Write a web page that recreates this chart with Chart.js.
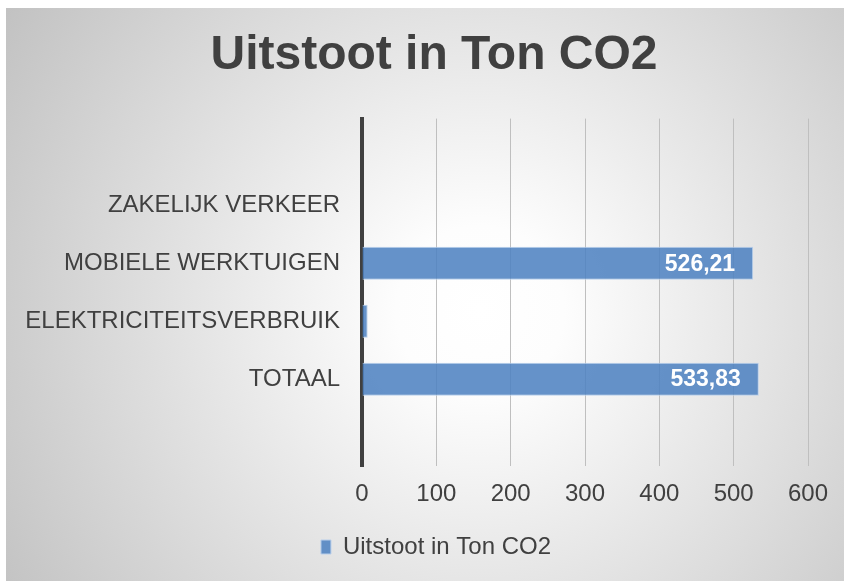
<!DOCTYPE html>
<html>
<head>
<meta charset="utf-8">
<script src="https://cdn.jsdelivr.net/npm/chart.js@4"></script>
<style>
  html, body { margin: 0; padding: 0; background: #fff; }
  #wrap { position: relative; width: 844px; height: 581px; }
</style>
</head>
<body>
<div id="wrap"><canvas id="chart" width="844" height="581"></canvas></div>
<script>
// ===== data =====
const categories = ['', 'ZAKELIJK VERKEER', 'MOBIELE WERKTUIGEN', 'ELEKTRICITEITSVERBRUIK', 'TOTAAL', ''];
const uitstoot = [null, 0, 526.21, 7.62, 533.83, null];
const xTicks = [0, 100, 200, 300, 400, 500, 600];
const seriesName = 'Uitstoot in Ton CO2';
const titleText = 'Uitstoot in Ton CO2';

const textColor = '#404040';
const font = '"Liberation Sans", Arial, sans-serif';

// grey-to-white radial background inside the frame
const bgPlugin = {
  id: 'bg',
  beforeDraw(chart) {
    const ctx = chart.ctx;
    const w = chart.width, h = chart.height;
    ctx.save();
    ctx.fillStyle = '#ffffff';
    ctx.fillRect(0, 0, w, h);
    const g = ctx.createRadialGradient(480, 310, 0, 480, 310, 560);
    g.addColorStop(0, '#ffffff');
    g.addColorStop(0.15, '#fdfdfd');
    g.addColorStop(1, '#c2c2c2');
    ctx.fillStyle = g;
    ctx.fillRect(6, 8, w - 6, h - 8);
    ctx.restore();
  },
  // title and legend sit a bit right of the full-width centre
  afterLayout(chart) {
    chart.titleBlock.left += 27;
    chart.titleBlock.right += 27;
    chart.legend.left += 29;
    chart.legend.right += 29;
  }
};

// value labels inside bar end (Dutch decimal comma)
const valueLabels = {
  id: 'valueLabels',
  afterDatasetsDraw(chart) {
    const ctx = chart.ctx;
    const meta = chart.getDatasetMeta(0);
    ctx.save();
    ctx.font = 'bold 23px ' + font;
    ctx.fillStyle = '#ffffff';
    ctx.textAlign = 'right';
    ctx.textBaseline = 'middle';
    meta.data.forEach((bar, i) => {
      const v = uitstoot[i];
      if (v == null || v < 50) return;
      ctx.fillText(v.toFixed(2).replace('.', ','), bar.x - 18, bar.y + 1);
    });
    ctx.restore();
  }
};

new Chart(document.getElementById('chart'), {
  type: 'bar',
  data: {
    labels: categories,
    datasets: [{
      label: seriesName,
      data: uitstoot,
      backgroundColor: 'rgba(80,131,193,0.88)',
      borderColor: 'rgba(185,207,235,1)',
      borderWidth: 1,
      categoryPercentage: 1,
      barPercentage: 0.57
    }]
  },
  options: {
    indexAxis: 'y',
    responsive: false,
    animation: false,
    layout: { padding: { left: 6, right: 36, top: 8, bottom: 12 } },
    scales: {
      x: {
        min: 0,
        max: 600,
        afterBuildTicks: (s) => { s.ticks = xTicks.map(v => ({ value: v })); },
        afterFit: (s) => { s.height = 59; },
        grid: { color: '#bfbfbf', lineWidth: 1, drawTicks: false },
        border: { display: false },
        ticks: {
          padding: 14,
          color: textColor,
          font: { family: font, size: 24 }
        }
      },
      y: {
        afterFit: (s) => { s.width = 356; },
        grid: { display: false, drawTicks: false },
        border: { display: true, color: '#404040', width: 4 },
        ticks: {
          padding: 22,
          autoSkip: false,
          color: textColor,
          font: { family: font, size: 24 }
        }
      }
    },
    plugins: {
      title: {
        display: true,
        text: titleText,
        color: textColor,
        font: { family: font, size: 48, weight: 'bold' },
        padding: { top: 19, bottom: 34 }
      },
      legend: {
        position: 'bottom',
        labels: {
          color: textColor,
          boxWidth: 10,
          boxHeight: 14,
          padding: 10,
          font: { family: font, size: 24 }
        }
      },
      tooltip: { enabled: false }
    }
  },
  plugins: [bgPlugin, valueLabels]
});
</script>
</body>
</html>
